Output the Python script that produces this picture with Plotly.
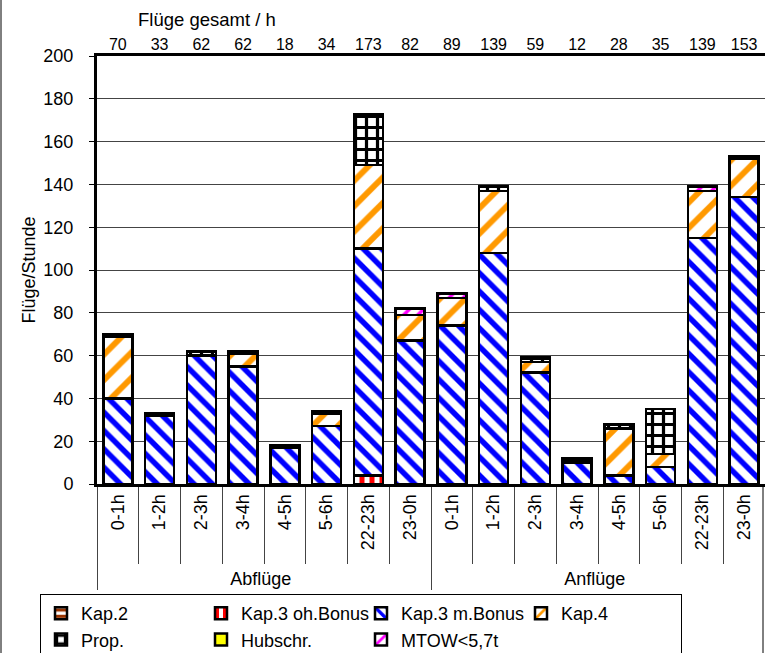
import plotly.graph_objects as go

groups = ["Abflüge"] * 8 + ["Anflüge"] * 8
hours = ["0-1h", "1-2h", "2-3h", "3-4h", "4-5h", "5-6h", "22-23h", "23-0h",
         "0-1h", "1-2h", "2-3h", "3-4h", "4-5h", "5-6h", "22-23h", "23-0h"]

kap2 =        [0, 0, 0, 0, 0, 0, 0, 0,    0, 0, 0, 0, 0, 0, 0, 0]
kap3_ohne =   [0, 0, 0, 0, 0, 0, 4, 0,    0, 0, 0, 0, 0, 0, 0, 0]
kap3_mit =    [40, 32, 60, 55, 17, 27, 106, 67,   74, 108, 52, 10, 4, 8, 115, 134]
kap4 =        [29, 0, 0, 6, 0, 6, 39, 12,   13, 29, 5, 1, 22, 6, 22, 18]
prop =        [1, 1, 2, 1, 1, 1, 24, 0,    0, 2, 2, 1, 2, 21, 0, 1]
hubschr =     [0, 0, 0, 0, 0, 0, 0, 0,    0, 0, 0, 0, 0, 0, 0, 0]
mtow =        [0, 0, 0, 0, 0, 0, 0, 3,    2, 0, 0, 0, 0, 0, 2, 0]
totals =      [70, 33, 62, 62, 18, 34, 173, 82,   89, 139, 59, 12, 28, 35, 139, 153]

FONT = "Liberation Sans, Arial, sans-serif"

series = [
    ("Kap.2", kap2, "-", "#993300", 8, 0.5),
    ("Kap.3 oh.Bonus", kap3_ohne, "|", "#ff0000", 10, 0.5),
    ("Kap.3 m.Bonus", kap3_mit, "\\", "#0000ff", 13, 0.42),
    ("Kap.4", kap4, "/", "#ff9900", 18, 0.33),
    ("Prop.", prop, "+", "#000000", 11, 0.5),
    ("Hubschr.", hubschr, "", "#ffff00", 8, 0.5),
    ("MTOW<5,7t", mtow, "/", "#ff00ff", 10, 0.35),
]

W, H = 765, 653
L, R, T, B = 97, 0, 36, 169
pw, ph = W - L - R, H - T - B
AX_TOP = 56  # pixel of the 200 line
ydom_top = (H - B - AX_TOP) / ph

def px(xp):
    return (xp - L) / pw

def py(yp):
    return (H - B - yp) / ph

fig = go.Figure()
x = [groups, hours]
for name, vals, shape, col, size, sol in series:
    if shape:
        marker = dict(color="white",
                      pattern=dict(shape=shape, fgcolor=col, bgcolor="white",
                                   size=size, solidity=sol, fgopacity=1),
                      line=dict(color="black", width=2.5))
    else:
        marker = dict(color=col, line=dict(color="black", width=2.5))
    fig.add_trace(go.Bar(x=x, y=vals, name=name, marker=marker))

fig.add_trace(go.Scatter(x=x, y=[0.5] * len(totals), yaxis="y2", mode="text",
                         text=[str(t) for t in totals], showlegend=False,
                         textfont=dict(size=16, color="black", family=FONT),
                         cliponaxis=False, hoverinfo="skip"))

fig.add_annotation(text="Flüge gesamt / h", xref="paper", yref="paper",
                   x=px(207), y=py(20), xanchor="center", yanchor="middle",
                   showarrow=False,
                   font=dict(size=18.5, color="black", family=FONT))

fig.add_shape(type="line", xref="paper", yref="paper",
              x0=px(1), x1=px(1), y0=py(-5), y1=py(660),
              line=dict(color="black", width=1))
fig.add_shape(type="line", xref="paper", yref="paper",
              x0=px(763), x1=px(763), y0=py(484), y1=py(660),
              line=dict(color="black", width=1))

fig.update_layout(
    width=W, height=H,
    margin=dict(l=L, r=R, t=T, b=B, autoexpand=False),
    barmode="stack", bargap=0.3,
    plot_bgcolor="white", paper_bgcolor="white",
    font=dict(family=FONT, color="black", size=18),
    legend=dict(orientation="h", x=px(40), y=py(594), xanchor="left", yanchor="top",
                traceorder="normal", bordercolor="black", borderwidth=1,
                font=dict(size=18, family=FONT), entrywidth=115,
                itemwidth=30),
    yaxis=dict(domain=[0, ydom_top], range=[0, 200], dtick=20, showgrid=True,
               gridcolor="#444444", gridwidth=1,
               showline=True, linecolor="black", linewidth=3, ticks="outside",
               ticklen=5, tickcolor="black", tickfont=dict(size=18),
               ticklabelstandoff=12, automargin=False,
               zeroline=False,
               title=dict(text="Flüge/Stunde", font=dict(size=18), standoff=4)),
    yaxis2=dict(domain=[ydom_top, 1], range=[0, 1], visible=False, automargin=False,
                anchor="x"),
    xaxis=dict(type="multicategory", range=[-0.5, 15.5], showline=True,
               linecolor="black", linewidth=3,
               mirror=True, tickangle=-90, tickfont=dict(size=18), automargin=False,
               ticks="outside", ticklen=77, tickcolor="#444444",
               showdividers=True, dividercolor="#444444", dividerwidth=1),
)

fig.write_html("out.html", config={"displayModeBar": False},
               post_script="document.body.style.margin='0';")
